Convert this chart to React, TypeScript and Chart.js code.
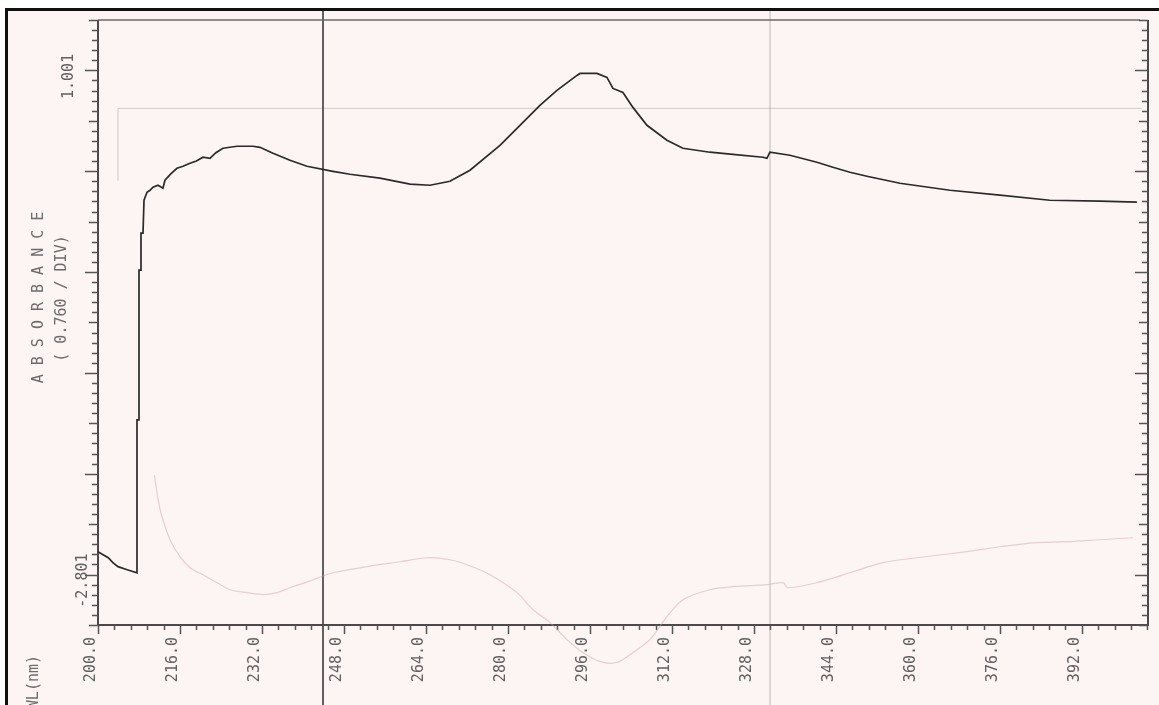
import React, { useEffect, useRef } from "react";
import { Chart, registerables } from "chart.js";

Chart.register(...registerables);

// ---- Data ----
const mainWavelength = [
  200.0, 201.0, 202.0, 202.9, 203.9, 205.7, 207.61, 207.61, 208.0, 208.0, 208.39, 208.39, 208.78,
  208.98, 209.56, 210.15, 210.73, 211.71, 212.68, 213.07, 214.2, 215.41, 216.6, 217.95, 219.2, 220.49,
  221.85, 223.0, 224.39, 227.12, 230.24, 231.61, 234.15, 237.46, 240.78, 245.85, 249.17, 255.02,
  260.88, 264.78, 268.68, 272.59, 278.44, 281.76, 286.24, 289.56, 293.46, 294.05, 297.37, 299.32,
  300.49, 302.44, 304.39, 307.12, 311.02, 314.15, 319.41, 323.9, 329.76, 330.54, 331.12, 335.02,
  340.29, 343.41, 346.73, 350.05, 356.49, 366.24, 376.0, 385.76, 395.51, 402.73,
];
const mainAbsorbance = [
  -2.628, -2.651, -2.674, -2.711, -2.741, -2.764, -2.787, -1.635, -1.635, -0.505, -0.505, -0.226, -0.226,
  0.022, 0.082, 0.097, 0.12, 0.135, 0.112, 0.173, 0.22, 0.263, 0.278, 0.301, 0.318, 0.346,
  0.338, 0.38, 0.414, 0.429, 0.429, 0.421, 0.376, 0.323, 0.278, 0.24, 0.218, 0.188,
  0.143, 0.135, 0.165, 0.248, 0.436, 0.564, 0.737, 0.85, 0.963, 0.978, 0.978, 0.948,
  0.865, 0.835, 0.722, 0.587, 0.474, 0.414, 0.384, 0.368, 0.346, 0.338, 0.384, 0.361,
  0.308, 0.271, 0.233, 0.203, 0.15, 0.097, 0.06, 0.022, 0.015, 0.007,
];

// faint trace showing through from the back of the paper
const ghostWavelength = [
  211.0, 211.8, 212.49, 214.05, 216.0, 217.95, 220.49, 223.22, 225.76, 229.07, 232.2,
  234.93, 237.46, 240.98, 245.85, 252.49, 258.93, 264.2, 268.68, 272.0, 276.49, 281.76, 284.88,
  288.2, 291.51, 294.63, 297.95, 301.27, 304.39, 307.71, 311.02, 314.15, 319.41, 323.9, 330.54,
  333.66, 334.63, 340.29, 346.73, 353.17, 359.8, 369.56, 376.0, 382.44, 389.07, 395.51, 401.95,
];
const ghostAbsorbance = [
  -2.05, -2.25, -2.365, -2.538, -2.666, -2.749, -2.802, -2.862, -2.915, -2.937, -2.952,
  -2.937, -2.9, -2.854, -2.787, -2.741, -2.704, -2.674, -2.689, -2.727, -2.802, -2.937, -3.065,
  -3.163, -3.291, -3.389, -3.457, -3.464, -3.389, -3.291, -3.118, -2.99, -2.915, -2.892, -2.877,
  -2.862, -2.9, -2.862, -2.787, -2.711, -2.674, -2.628, -2.591, -2.561, -2.553, -2.538, -2.523,
];

const xTickValues = [200, 216, 232, 248, 264, 280, 296, 312, 328, 344, 360, 376, 392];
const xTickLabels = ["200.0", "216.0", "232.0", "248.0", "264.0", "280.0", "296.0", "312.0", "328.0", "344.0", "360.0", "376.0", "392.0"];
const yLabelValues = [1.001, -2.801];
const yLabelTexts = ["1.001", "-2.801"];
const yTitle = "A B S O R B A N C E";
const yScaleText = "( 0.760 / DIV)";
const xTitle = "WL(nm)";

const X_MIN = 200;
const X_MAX = 404.9;
const Y_DIV = 0.7604;
const Y_MIN = -3.181;
const Y_MAX = 1.381;
const X_MINOR = 3.2;
const FOLD_A = 243.9; // paper fold (nm position)
const FOLD_B = 331.1;
const BOX_X = 203.9;
const BOX_Y = 0.715;

const FONT = '15px "DejaVu Sans Mono", "Liberation Mono", monospace';

const paperPlugin = {
  id: "paper",
  beforeDraw(chart: any) {
    const { ctx, width, height } = chart;
    ctx.save();
    ctx.fillStyle = "#ffffff";
    ctx.fillRect(0, 0, width, height);
    ctx.fillStyle = "#fdf5f4";
    ctx.fillRect(7, 10, width - 7, height - 10);
    ctx.fillStyle = "#111111";
    ctx.fillRect(5, 8, 3, height - 8);
    ctx.fillRect(5, 8, width - 5, 3);
    ctx.restore();
  },
  beforeDatasetsDraw(chart: any) {
    const { ctx, chartArea: ca, scales } = chart;
    const xs = scales.x;
    const ys = scales.y;
    ctx.save();

    // faint printed box
    ctx.strokeStyle = "rgba(170,160,160,0.5)";
    ctx.lineWidth = 1;
    const bx = xs.getPixelForValue(BOX_X);
    const by = ys.getPixelForValue(BOX_Y);
    ctx.beginPath();
    ctx.moveTo(ca.right - 6, by);
    ctx.lineTo(bx, by);
    ctx.lineTo(bx, ys.getPixelForValue(0.17));
    ctx.stroke();

    // paper fold lines
    const fa = Math.round(xs.getPixelForValue(FOLD_A));
    ctx.fillStyle = "rgba(70,70,70,0.85)";
    ctx.fillRect(fa - 1, 11, 2, chart.height - 11);
    const fb = Math.round(xs.getPixelForValue(FOLD_B));
    ctx.fillStyle = "rgba(150,140,140,0.3)";
    ctx.fillRect(fb - 1, 11, 2, chart.height - 11);

    // axes frame
    ctx.strokeStyle = "#4a4a4a";
    ctx.lineWidth = 2;
    ctx.beginPath();
    ctx.moveTo(ca.left, ca.top);
    ctx.lineTo(ca.left, ca.bottom);
    ctx.lineTo(ca.right, ca.bottom);
    ctx.lineTo(ca.right, ca.top);
    ctx.stroke();
    ctx.strokeStyle = "#6a6a6a";
    ctx.lineWidth = 1.5;
    ctx.beginPath();
    ctx.moveTo(ca.left, ca.top);
    ctx.lineTo(ca.right - 8, ca.top);
    ctx.stroke();

    // y ticks (left outward, right inward)
    ctx.strokeStyle = "#555555";
    ctx.lineWidth = 1.5;
    const nY = Math.round((Y_MAX - Y_MIN) / (Y_DIV / 10));
    for (let i = 0; i <= nY; i++) {
      const v = Y_MIN + (i * Y_DIV) / 10;
      const py = Math.round(ys.getPixelForValue(v)) + 0.5;
      const k = i % 10;
      const len = k === 5 ? 13 : k === 0 ? 9 : 6;
      ctx.beginPath();
      ctx.moveTo(ca.left, py);
      ctx.lineTo(ca.left - len, py);
      ctx.moveTo(ca.right, py);
      ctx.lineTo(ca.right - len, py);
      ctx.stroke();
    }
    // x ticks (downward)
    const nX = Math.floor((X_MAX - X_MIN) / X_MINOR + 1e-6);
    for (let i = 0; i <= nX; i++) {
      const v = X_MIN + i * X_MINOR;
      const px = Math.round(xs.getPixelForValue(v)) + 0.5;
      const len = i % 5 === 0 ? 9 : 5;
      ctx.beginPath();
      ctx.moveTo(px, ca.bottom);
      ctx.lineTo(px, ca.bottom + len);
      ctx.stroke();
    }

    // text
    ctx.font = FONT;
    ctx.fillStyle = "#606060";
    ctx.textBaseline = "middle";
    xTickValues.forEach((v, i) => {
      const px = xs.getPixelForValue(v) - 7;
      ctx.save();
      ctx.translate(px, ca.bottom + 12);
      ctx.rotate(-Math.PI / 2);
      ctx.textAlign = "right";
      ctx.fillText(xTickLabels[i], 0, 0);
      ctx.restore();
    });
    yLabelValues.forEach((v, i) => {
      const py = ys.getPixelForValue(v);
      ctx.save();
      ctx.translate(ca.left - (i === 0 ? 29 : 15), py + 6);
      ctx.rotate(-Math.PI / 2);
      ctx.textAlign = "center";
      ctx.fillText(yLabelTexts[i], 0, 0);
      ctx.restore();
    });
    const midY = (ca.top + ca.bottom) / 2;
    ctx.fillStyle = "#6c6c6c";
    ctx.save();
    ctx.translate(ca.left - 59, midY - 25);
    ctx.rotate(-Math.PI / 2);
    ctx.textAlign = "center";
    ctx.fillText(yTitle, 0, 0);
    ctx.restore();
    ctx.save();
    ctx.translate(ca.left - 36, midY - 24);
    ctx.rotate(-Math.PI / 2);
    ctx.textAlign = "center";
    ctx.fillText(yScaleText, 0, 0);
    ctx.restore();
    ctx.save();
    ctx.translate(ca.left - 64, ca.bottom + 30);
    ctx.rotate(-Math.PI / 2);
    ctx.textAlign = "right";
    ctx.fillText(xTitle, 0, 0);
    ctx.restore();

    ctx.restore();
  },
};

export default function App() {
  const canvasRef = useRef<HTMLCanvasElement | null>(null);

  useEffect(() => {
    const canvas = canvasRef.current;
    if (!canvas) return;
    const chart = new Chart(canvas, {
      type: "line",
      data: {
        datasets: [
          {
            label: "ghost",
            data: ghostWavelength.map((x, i) => ({ x, y: ghostAbsorbance[i] })),
            borderColor: "rgba(200,160,168,0.45)",
            borderWidth: 1.2,
            pointRadius: 0,
            tension: 0.3,
            clip: false as any,
          },
          {
            label: "absorbance",
            data: mainWavelength.map((x, i) => ({ x, y: mainAbsorbance[i] })),
            borderColor: "#2a2a2a",
            borderWidth: 1.7,
            pointRadius: 0,
            tension: 0,
          },
        ],
      },
      options: {
        responsive: false,
        animation: false,
        devicePixelRatio: 1,
        layout: { padding: { left: 98, top: 20, right: 11, bottom: 80 } },
        plugins: { legend: { display: false }, tooltip: { enabled: false } },
        scales: {
          x: { type: "linear", min: X_MIN, max: X_MAX, display: false },
          y: { type: "linear", min: Y_MIN, max: Y_MAX, display: false },
        },
      },
      plugins: [paperPlugin],
    });
    return () => chart.destroy();
  }, []);

  return (
    <div style={{ position: "fixed", left: 0, top: 0, width: 1159, height: 705, overflow: "hidden" }}>
      <canvas ref={canvasRef} width={1159} height={705} style={{ display: "block" }} />
    </div>
  );
}
